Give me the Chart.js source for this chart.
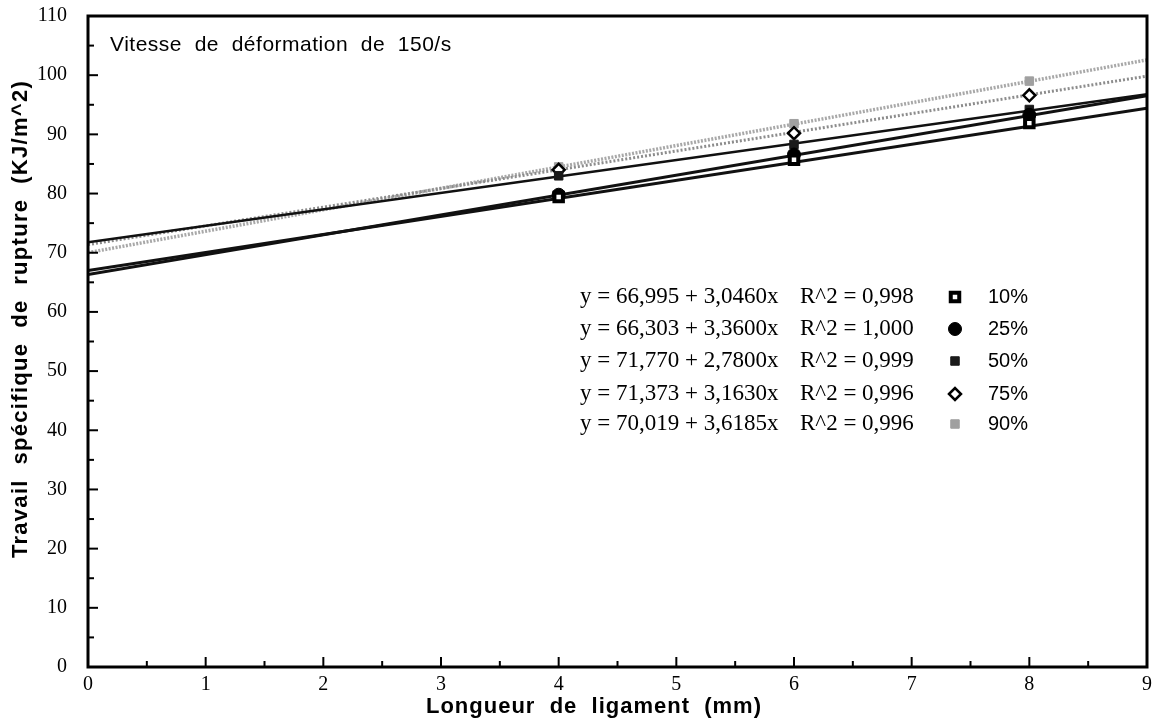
<!DOCTYPE html>
<html>
<head>
<meta charset="utf-8">
<script src="https://cdn.jsdelivr.net/npm/chart.js@4"></script>
<style>
  html, body { margin: 0; padding: 0; background: #fff; }
  #wrap { width: 1161px; height: 725px; }
</style>
</head>
<body>
<div id="wrap"><canvas id="chart"></canvas></div>
<script>
// series data
const seriesNames = ['10%', '25%', '50%', '75%', '90%'];
const xPoints = [4, 6, 8];
const val10 = [79.4, 85.7, 91.9];
const val25 = [79.8, 86.6, 93.3];
const val50 = [83.0, 88.3, 94.2];
const val75 = [84.0, 90.2, 96.6];
const val90 = [84.5, 91.8, 99.0];
// regression coefficients printed on the chart
const intercepts = [66.995, 66.303, 71.770, 71.373, 70.019];
const slopes = [3.0460, 3.3600, 2.7800, 3.1630, 3.6185];
const eqLabels = ['y = 66,995 + 3,0460x', 'y = 66,303 + 3,3600x', 'y = 71,770 + 2,7800x', 'y = 71,373 + 3,1630x', 'y = 70,019 + 3,6185x'];
const r2Labels = ['R^2 = 0,998', 'R^2 = 1,000', 'R^2 = 0,999', 'R^2 = 0,996', 'R^2 = 0,996'];
const xRange = [0, 9];

const allValues = [val10, val25, val50, val75, val90];

const lineColors = ['#111', '#111', '#111', '#8c8c8c', '#a8a8a8'];
const lineWidths = [3, 3, 2.5, 3, 3.5];
const lineDash = [[], [], [], [2, 2], [2, 1.5]];
const markers = [
  { pointStyle: 'rect', radius: 6, bg: '#fff', border: '#000', bw: 4 },
  { pointStyle: 'circle', radius: 6.5, bg: '#000', border: '#000', bw: 1 },
  { pointStyle: 'rect', radius: 6, bg: '#1a1a1a', border: '#1a1a1a', bw: 1 },
  { pointStyle: 'rectRot', radius: 6, bg: '#fff', border: '#000', bw: 2.5 },
  { pointStyle: 'rect', radius: 6, bg: '#a0a0a0', border: '#a0a0a0', bw: 1 }
];

const datasets = [];
seriesNames.forEach((name, i) => {
  datasets.push({
    label: name + ' fit',
    data: xRange.map(x => ({ x: x, y: intercepts[i] + slopes[i] * x })),
    showLine: true,
    borderColor: lineColors[i],
    borderWidth: lineWidths[i],
    borderDash: lineDash[i],
    pointRadius: 0,
    order: 2
  });
});
seriesNames.forEach((name, i) => {
  datasets.push({
    label: name,
    data: xPoints.map((x, j) => ({ x: x, y: allValues[i][j] })),
    showLine: false,
    pointStyle: markers[i].pointStyle,
    pointRadius: markers[i].radius,
    pointBackgroundColor: markers[i].bg,
    pointBorderColor: markers[i].border,
    pointBorderWidth: markers[i].bw,
    order: 1
  });
});

const SANS = '"Liberation Sans", Arial, sans-serif';
const SERIF = '"Liberation Serif", "Times New Roman", serif';

// inward ticks, frame, titles and the in-plot legend
const decorPlugin = {
  id: 'decor',
  afterDraw(chart) {
    const ctx = chart.ctx;
    const a = chart.chartArea;
    const xs = chart.scales.x, ys = chart.scales.y;
    ctx.save();
    ctx.strokeStyle = '#000';
    ctx.lineWidth = 2;
    for (let v = 0; v <= 110; v += 5) {
      const py = ys.getPixelForValue(v);
      const len = v % 10 === 0 ? 10 : 6;
      ctx.beginPath(); ctx.moveTo(a.left, py); ctx.lineTo(a.left + len, py); ctx.stroke();
    }
    for (let v = 0; v <= 9; v += 0.5) {
      const px = xs.getPixelForValue(v);
      const len = Number.isInteger(v) ? 10 : 6;
      ctx.beginPath(); ctx.moveTo(px, a.bottom); ctx.lineTo(px, a.bottom - len); ctx.stroke();
    }
    ctx.lineWidth = 3;
    ctx.strokeRect(a.left, a.top, a.right - a.left, a.bottom - a.top);

    ctx.fillStyle = '#000';
    ctx.textBaseline = 'middle';
    ctx.textAlign = 'left';
    ctx.letterSpacing = '0.5px';
    ctx.font = '21px ' + SANS;
    ctx.fillText('Vitesse  de  déformation  de  150/s', 110, 45);

    // axis titles
    ctx.font = 'bold 22px ' + SANS;
    ctx.letterSpacing = '1px';
    ctx.textAlign = 'center';
    ctx.fillText('Longueur  de  ligament  (mm)', 594, 707);
    ctx.save();
    ctx.translate(21, 319);
    ctx.rotate(-Math.PI / 2);
    ctx.letterSpacing = '1.3px';
    ctx.fillText('Travail  spécifique  de  rupture  (KJ/m^2)', 0, 0);
    ctx.restore();
    ctx.letterSpacing = '0px';
    ctx.textAlign = 'left';

    const rowY = [297, 329, 361, 394, 424];
    seriesNames.forEach((name, i) => {
      ctx.font = '23px ' + SERIF;
      ctx.fillStyle = '#000';
      ctx.fillText(eqLabels[i], 580, rowY[i]);
      ctx.fillText(r2Labels[i], 800, rowY[i]);
      const m = markers[i];
      ctx.fillStyle = m.bg;
      ctx.strokeStyle = m.border;
      ctx.lineWidth = m.bw;
      Chart.helpers.drawPoint(ctx, { pointStyle: m.pointStyle, radius: m.radius, borderWidth: m.bw, rotation: 0 }, 955, rowY[i]);
      ctx.fillStyle = '#000';
      ctx.font = '20px ' + SANS;
      ctx.fillText(name, 988, rowY[i]);
    });
    ctx.restore();
  }
};

new Chart(document.getElementById('chart'), {
  type: 'scatter',
  data: { datasets: datasets },
  options: {
    responsive: true,
    maintainAspectRatio: false,
    animation: false,
    layout: { padding: { top: 16, right: 14, left: 0, bottom: 0 } },
    plugins: { legend: { display: false }, tooltip: { enabled: false } },
    scales: {
      x: {
        type: 'linear', min: 0, max: 9,
        ticks: { stepSize: 1, color: '#000', padding: -2, font: { family: SERIF, size: 20 } },
        grid: { display: false },
        border: { display: false },
        afterFit(s) { s.height = 58; s.paddingLeft = 0; s.paddingRight = 0; }
      },
      y: {
        type: 'linear', min: 0, max: 110,
        ticks: { stepSize: 10, color: '#000', padding: 13, font: { family: SERIF, size: 20 } },
        grid: { display: false },
        border: { display: false },
        afterFit(s) { s.width = 88; s.paddingTop = 0; s.paddingBottom = 0; }
      }
    }
  },
  plugins: [decorPlugin]
});
</script>
</body>
</html>
